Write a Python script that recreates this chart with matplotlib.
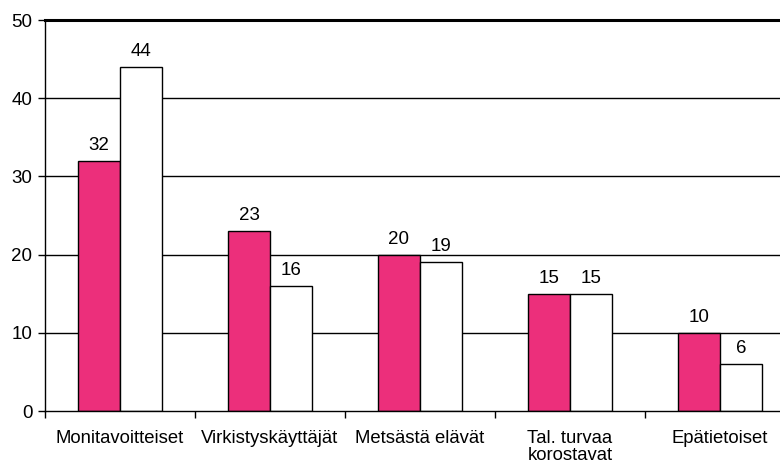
import matplotlib
matplotlib.use("Agg")
import matplotlib.pyplot as plt
import numpy as np

plt.rcParams['font.family'] = ['Liberation Sans', 'DejaVu Sans']

categories = ["Monitavoitteiset", "Virkistyskäyttäjät", "Metsästä elävät", "Tal. turvaa\nkorostavat", "Epätietoiset"]
series_a = [32, 23, 20, 15, 10]
series_b = [44, 16, 19, 15, 6]

fig = plt.figure(figsize=(7.8, 4.65), dpi=100)
ax = fig.add_axes([45/780, 54/465, 735/780, 391/465])

x = np.arange(len(categories))
w = 0.28
pink = '#EC2F7B'

ax.set_axisbelow(True)
for y in [10, 20, 30, 40]:
    ax.axhline(y, color='black', lw=1.0, zorder=0)
ax.axhline(50, color='black', lw=2.2, zorder=0, clip_on=False)

b1 = ax.bar(x - w/2, series_a, width=w, color=pink, edgecolor='black', lw=1.0, zorder=2)
b2 = ax.bar(x + w/2, series_b, width=w, color='white', edgecolor='black', lw=1.0, zorder=2)

for bars, vals in ((b1, series_a), (b2, series_b)):
    for rect, v in zip(bars, vals):
        ax.annotate(str(v), (rect.get_x() + rect.get_width()/2, v), xytext=(0, 5),
                    textcoords='offset points', ha='center', va='bottom', fontsize=13.5)

ax.set_xlim(-0.5, 4.4)
ax.set_ylim(0, 50)
ax.set_yticks([0, 10, 20, 30, 40, 50])
ax.tick_params(axis='y', length=5, width=1, labelsize=13.5, pad=4)
ax.set_xticks(x)
ax.set_xticklabels(categories, fontsize=13.3, linespacing=0.95)
ax.tick_params(axis='x', which='major', length=0, pad=14)
ax.set_xticks([-0.5, 0.5, 1.5, 2.5, 3.5], minor=True)
ax.tick_params(axis='x', which='minor', length=5, width=1)

for s in ['top', 'right']:
    ax.spines[s].set_visible(False)
ax.spines['left'].set_linewidth(1.0)
ax.spines['bottom'].set_linewidth(1.0)

fig.savefig('out.png', dpi=100)
